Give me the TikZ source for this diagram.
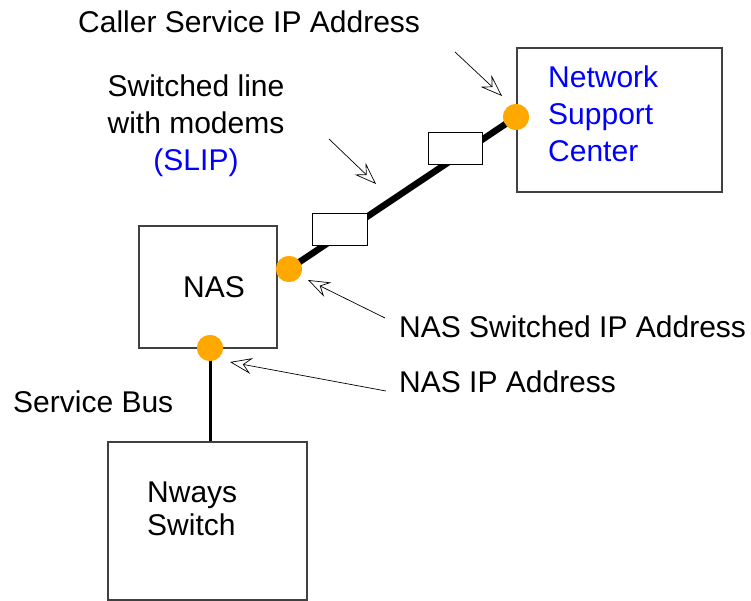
\documentclass[tikz,border=0pt]{standalone}
\usepackage{fontspec}
\setmainfont{Liberation Sans}
\usetikzlibrary{arrows.meta,positioning}
\definecolor{portorange}{RGB}{255,168,0}
\definecolor{linkblue}{RGB}{0,0,255}

\begin{document}
\begin{tikzpicture}[
    x=1pt, y=-1pt,
    box/.style={rectangle, draw=black!75, line width=1.2pt, inner sep=0pt},
    port/.style={circle, fill=portorange, minimum size=26pt, inner sep=0pt},
    modem/.style={rectangle, draw, fill=white, minimum width=55pt, minimum height=32pt, inner sep=0pt, line width=1pt},
    txt/.style={inner sep=0pt, anchor=base west, font=\fontsize{30}{37}\selectfont},
    pointer/.style={-{Stealth[open, length=22pt, width=16pt, inset=8pt]}, line width=0.7pt}
]
\useasboundingbox (0,0) rectangle (751,601);

% Boxes
\node[box, minimum width=205pt, minimum height=144pt] (nsc) at (619.5,120) {};
\node[box, minimum width=138pt, minimum height=122pt] (nas) at (208,287) {};
\node[box, minimum width=199pt, minimum height=158pt] (nways) at (207.5,521) {};

% Ports
\node[port] (nscport) at (516,117) {};
\node[port] (nasport) at (289,269) {};
\node[port] (busport) at (210,348) {};

% Switched line and service bus
\draw[line width=6.5pt] (nasport.center) -- (nscport.center);
\draw[line width=3pt] (busport.center) -- (busport |- nways.north);
\node[port] at (nasport) {};
\node[port] at (nscport) {};
\node[port] at (busport) {};

% Modems
\node[modem] (modema) at (339.5,230) {};
\node[modem, minimum width=54pt] (modemb) at (455,149) {};

% Pointers
\coordinate (callerfrom) at (455,52);
\coordinate (callerto) at (502,96);
\coordinate (slipfrom) at (329,139);
\coordinate (slipto) at (376,184);
\coordinate (swfrom) at (385,318);
\coordinate (swto) at (308,280);
\coordinate (ipfrom) at (386,391);
\coordinate (ipto) at (230,362);
\draw[pointer] (callerfrom) -- (callerto);
\draw[pointer] (slipfrom) -- (slipto);
\draw[pointer] (swfrom) -- (swto);
\draw[pointer] (ipfrom) -- (ipto);

% Labels (multi-line ones sit on their last baseline)
\node[txt] (caller) at (78,33) {Caller Service IP Address};
\node[txt, anchor=base, align=center] (slip) at (196,171) {Switched line\\with modems\\\textcolor{linkblue}{(SLIP)}};
\node[txt, align=left, text=linkblue] (nsctext) at (548,162) {Network\\Support\\Center};
\node[txt] (nastext) at (183,297) {NAS};
\node[txt] (swaddr) at (399,337) {NAS Switched IP Address};
\node[txt] (ipaddr) at (399,392) {NAS IP Address};
\node[txt] (bus) at (13,412) {Service Bus};
\node[txt, align=left, font=\fontsize{30}{33}\selectfont] (nwaystext) at (147,535) {Nways\\Switch};

\end{tikzpicture}
\end{document}
